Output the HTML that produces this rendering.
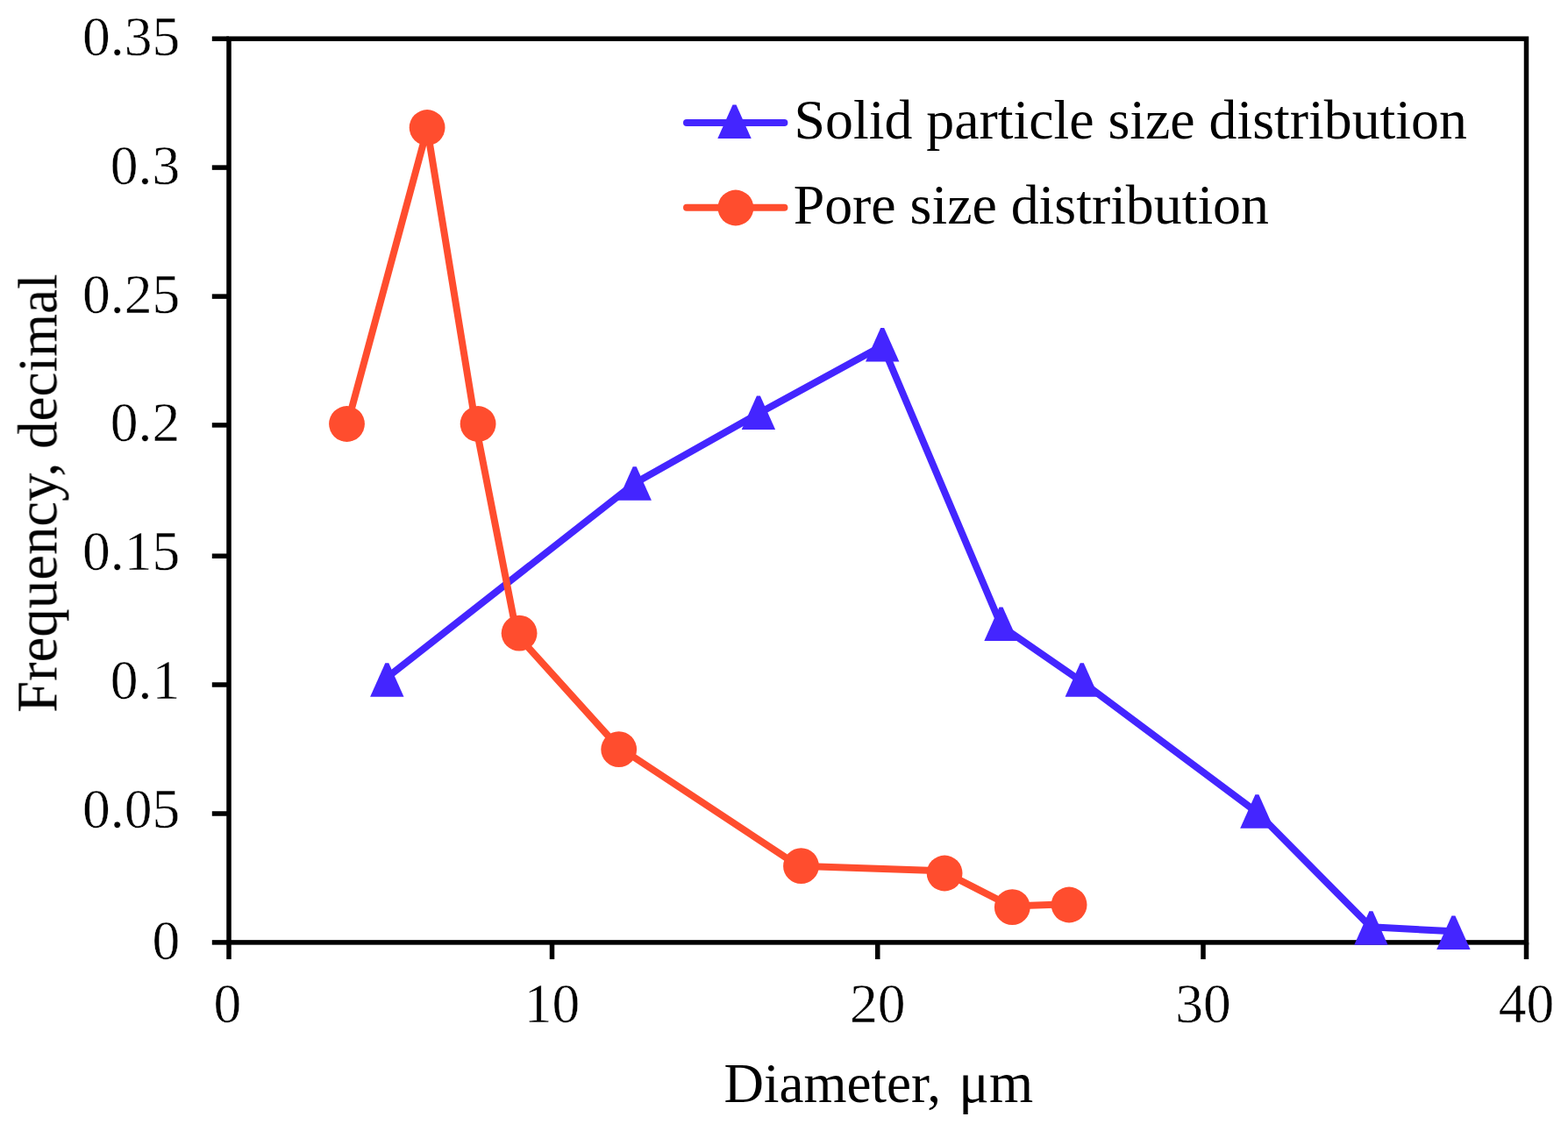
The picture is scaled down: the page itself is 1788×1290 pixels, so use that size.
<!DOCTYPE html>
<html lang="en">
<head>
<meta charset="utf-8">
<title>Solid particle size distribution and pore size distribution</title>
<style>
html,body{margin:0;padding:0;background:#fff;}
body{width:1788px;height:1290px;overflow:hidden;}
svg{display:block;}
text{font-family:"Liberation Serif",serif;fill:#000;}
.tk text{stroke:#fff;stroke-width:0.5px;}
svg{font-size:64px;}
</style>
</head>
<body>
<svg width="1788" height="1290" viewBox="0 0 1788 1290">
<defs><filter id="soft" filterUnits="userSpaceOnUse" x="0" y="0" width="1788" height="1290" color-interpolation-filters="sRGB"><feGaussianBlur stdDeviation="0.7"/></filter></defs>
<rect x="0" y="0" width="1788" height="1290" fill="#ffffff"/>
<g filter="url(#soft)">
<g fill="none" stroke="#000" stroke-width="5.5" stroke-linecap="butt" stroke-linejoin="miter">
<rect x="261.0" y="44.2" width="1479.5" height="1030.7"/>
<line x1="241.80" y1="1074.90" x2="261.00" y2="1074.90"/>
<line x1="241.80" y1="928.00" x2="261.00" y2="928.00"/>
<line x1="241.80" y1="781.00" x2="261.00" y2="781.00"/>
<line x1="241.80" y1="634.20" x2="261.00" y2="634.20"/>
<line x1="241.80" y1="484.90" x2="261.00" y2="484.90"/>
<line x1="241.80" y1="338.10" x2="261.00" y2="338.10"/>
<line x1="241.80" y1="191.10" x2="261.00" y2="191.10"/>
<line x1="241.80" y1="44.20" x2="261.00" y2="44.20"/>
<line x1="261.00" y1="1074.90" x2="261.00" y2="1094.10"/>
<line x1="629.50" y1="1074.90" x2="629.50" y2="1094.10"/>
<line x1="1000.75" y1="1074.90" x2="1000.75" y2="1094.10"/>
<line x1="1372.00" y1="1074.90" x2="1372.00" y2="1094.10"/>
<line x1="1740.50" y1="1074.90" x2="1740.50" y2="1094.10"/>
</g>
<g class="tk" text-anchor="end" font-size="63.5">
<text x="205.2" y="1094.0">0</text>
<text x="205.2" y="944.3">0.05</text>
<text x="205.2" y="796.9">0.1</text>
<text x="205.2" y="649.7">0.15</text>
<text x="205.2" y="503.2">0.2</text>
<text x="205.2" y="356.7">0.25</text>
<text x="205.2" y="209.7">0.3</text>
<text x="205.2" y="63.3">0.35</text>
</g>
<g class="tk" text-anchor="middle" font-size="63.5">
<text x="259.4" y="1165.8">0</text>
<text x="629.5" y="1165.8">10</text>
<text x="1000.8" y="1165.8">20</text>
<text x="1372.0" y="1165.8">30</text>
<text x="1740.5" y="1165.8">40</text>
</g>
<g text-anchor="middle">
<text y="1257" text-anchor="start"><tspan x="825.5" font-size="63">Diameter,</tspan><tspan x="1077.2" font-size="64.5"> μm</tspan></text>
<text transform="translate(64.4 812.9) rotate(-90)" y="0" text-anchor="start"><tspan x="0" font-size="64.8">Frequency,</tspan><tspan x="285.3" font-size="63"> decimal</tspan></text>
</g>
<g fill="#4425ff" stroke="none">
<polyline points="439.5,774.2 723.6,551.3 865.0,471.6 1006.4,394.3 1142.0,714.3 1234.0,777.8 1434.0,927.0 1563.0,1057.3 1657.4,1062.3" fill="none" stroke="#4425ff" stroke-width="8.0" stroke-linejoin="round" stroke-linecap="round"/>
<polygon points="439.3,756.3 443.3,756.3 460.5,794.7 422.1,794.7"/>
<polygon points="721.7,532.3 725.7,532.3 742.9,570.7 704.5,570.7"/>
<polygon points="862.9,451.6 866.9,451.6 884.1,490.0 845.7,490.0"/>
<polygon points="1004.2,374.1 1008.2,374.1 1025.4,412.5 987.0,412.5"/>
<polygon points="1139.5,692.5 1143.5,692.5 1160.7,730.9 1122.3,730.9"/>
<polygon points="1231.8,756.3 1235.8,756.3 1253.0,794.7 1214.6,794.7"/>
<polygon points="1431.4,906.3 1435.4,906.3 1452.6,944.7 1414.2,944.7"/>
<polygon points="1561.4,1039.3 1565.4,1039.3 1582.6,1077.7 1544.2,1077.7"/>
<polygon points="1655.4,1044.5 1659.4,1044.5 1676.6,1082.9 1638.2,1082.9"/>
</g>
<g fill="#ff4d2e" stroke="none">
<polyline points="396.1,484.0 487.2,147.0 542.3,484.0 589.4,724.0 704.5,851.5 910.5,987.7 1073.7,993.2 1152.5,1033.5 1218.0,1031.3" fill="none" stroke="#ff4d2e" stroke-width="8.0" stroke-linejoin="round" stroke-linecap="round"/>
<circle cx="395.5" cy="483.5" r="20.4"/>
<circle cx="487.1" cy="145.5" r="20.4"/>
<circle cx="545.1" cy="483.5" r="20.4"/>
<circle cx="592.1" cy="722.2" r="20.4"/>
<circle cx="705.7" cy="854.7" r="20.4"/>
<circle cx="913.5" cy="987.7" r="20.4"/>
<circle cx="1077.1" cy="996.0" r="20.4"/>
<circle cx="1154.3" cy="1034.7" r="20.4"/>
<circle cx="1219.1" cy="1032.0" r="20.4"/>
</g>
<g fill="#4425ff"><line x1="783" y1="140" x2="894.4" y2="140" stroke="#4425ff" stroke-width="8.0" stroke-linecap="round"/><polygon points="835.5,119.5 839.5,119.5 856.7,157.9 818.3,157.9"/></g>
<g fill="#ff4d2e"><line x1="783" y1="236.8" x2="894.4" y2="236.8" stroke="#ff4d2e" stroke-width="8.0" stroke-linecap="round"/><circle cx="838.9" cy="237" r="20.4"/></g>
<text x="905.6" y="157.7" font-size="63.8">Solid particle size distribution</text>
<text x="904.7" y="254.8" font-size="63.8">Pore size distribution</text>
</g>
</svg>
</body>
</html>
